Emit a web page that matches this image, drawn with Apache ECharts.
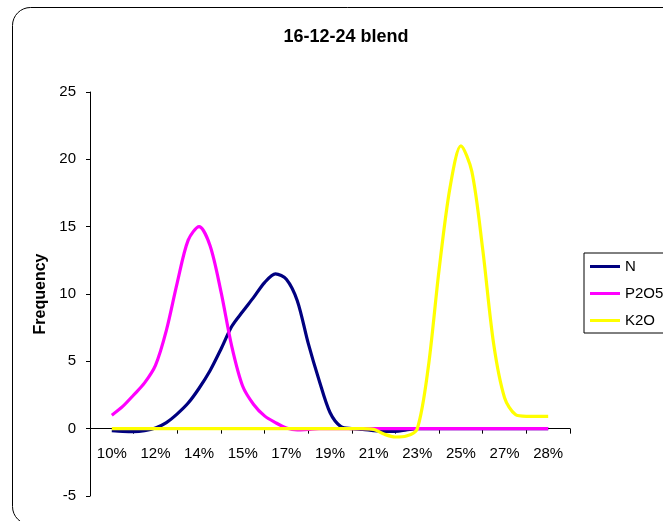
<!DOCTYPE html>
<html>
<head>
<meta charset="utf-8">
<title>16-12-24 blend</title>
<script src="https://cdn.jsdelivr.net/npm/echarts@6/dist/echarts.min.js"></script>
<style>
  html, body { margin: 0; padding: 0; background: #ffffff; }
  #chart { width: 663px; height: 521px; }
</style>
</head>
<body>
<div id="chart"></div>
<script>
// Tick labels along the nutrient-content axis (one per group of four bins)
var xTickLabels = ['10%', '12%', '14%', '15%', '17%', '19%', '21%', '23%', '25%', '27%', '28%'];

// Frequency per bin (41 bins from 10% to 28%)
var nValues = [
  -0.15, -0.2, -0.22, -0.15, 0.05, 0.45, 1.1, 1.9, 3.0, 4.3,
  5.9, 7.6, 8.7, 9.75, 10.85, 11.5, 11.1, 9.5, 6.35, 3.6,
  1.2, 0.15, 0, -0.05, -0.15, -0.2, -0.2, -0.1, 0, 0,
  0, 0, 0, 0, 0, 0, 0, 0, 0, 0, 0
];
var p2o5Values = [
  1.0, 1.65, 2.5, 3.4, 4.7, 7.3, 10.85, 14.0, 15.0, 13.6,
  10.2, 6.1, 3.15, 1.8, 0.95, 0.45, 0.05, -0.1, -0.05, 0,
  0, 0, 0, 0, 0, 0, 0, 0, 0, 0,
  0, 0, 0, 0, 0, 0, 0, 0, 0, 0, 0
];
var k2oValues = [
  0, 0, 0, 0, 0, 0, 0, 0, 0, 0,
  0, 0, 0, 0, 0, 0, 0, 0, 0, 0,
  0, 0, 0, 0, -0.05, -0.42, -0.62, -0.55, 0.0, 4.5,
  11.8, 17.9, 21.0, 19.1, 13.3, 6.3, 2.3, 1.05, 0.92, 0.92, 0.92
];

var seriesNames = ['N', 'P2O5', 'K2O'];
var seriesColors = ['#000080', '#ff00ff', '#ffff00'];
var binsPerLabel = 4;
var yMin = -5, yMax = 25, yStep = 5;

function toPoints(values) {
  return values.map(function (v, i) { return [i, v]; });
}

var FONT = "'Liberation Sans', Arial, sans-serif";
var W = 663, H = 521;
var gridBox = { left: 90, right: 93, top: 92, bottom: 25 };
var plotHeight = H - gridBox.top - gridBox.bottom;
// the category axis sits on the zero line of the frequency scale
var zeroLineOffset = -(0 - yMin) / (yMax - yMin) * plotHeight;

var chart = echarts.init(document.getElementById('chart'), null, { renderer: 'canvas' });
var valueSets = [nValues, p2o5Values, k2oValues];
var lastBin = nValues.length - 1;

chart.setOption({
  backgroundColor: '#ffffff',
  animation: false,
  title: {
    text: '16-12-24 blend',
    left: 341,
    top: 23,
    textAlign: 'center',
    textStyle: { fontFamily: FONT, fontSize: 18, fontWeight: 'bold', color: '#000' }
  },
  graphic: [{
    type: 'rect',
    shape: { x: 12.5, y: 7.5, width: 720, height: 517, r: 18 },
    style: { fill: 'none', stroke: '#000', lineWidth: 1 },
    silent: true,
    z: -1
  }],
  legend: {
    orient: 'vertical',
    left: 584,
    top: 253,
    padding: [6, 40, 5, 6],
    itemGap: 12,
    itemWidth: 30,
    itemHeight: 3,
    borderColor: '#000',
    borderWidth: 1,
    backgroundColor: '#fff',
    icon: 'rect',
    textStyle: { fontFamily: FONT, fontSize: 15, color: '#000', lineHeight: 15 },
    data: seriesNames
  },
  grid: {
    left: gridBox.left, right: gridBox.right, top: gridBox.top, bottom: gridBox.bottom,
    containLabel: false,
    outerBoundsMode: 'none'
  },
  xAxis: [{
    type: 'category',
    data: xTickLabels,
    boundaryGap: true,
    offset: zeroLineOffset,
    axisLine: { onZero: false, lineStyle: { color: '#000', width: 1 } },
    axisTick: { show: true, inside: false, length: 5, alignWithLabel: false, lineStyle: { color: '#000' } },
    axisLabel: { margin: 18, fontFamily: FONT, fontSize: 15, color: '#000', interval: 0, hideOverlap: false },
    splitLine: { show: false }
  }, {
    type: 'value',
    show: false,
    min: -binsPerLabel / 2,
    max: lastBin + binsPerLabel / 2
  }],
  yAxis: {
    type: 'value',
    min: yMin,
    max: yMax,
    interval: yStep,
    name: 'Frequency',
    nameLocation: 'middle',
    nameRotate: 90,
    nameGap: 41,
    nameTextStyle: { fontFamily: FONT, fontSize: 16, fontWeight: 'bold', color: '#000' },
    axisLine: { show: true, onZero: false, lineStyle: { color: '#000', width: 1 } },
    axisTick: { show: true, inside: false, length: 4, lineStyle: { color: '#000' } },
    axisLabel: { margin: 14, fontFamily: FONT, fontSize: 15, color: '#000' },
    splitLine: { show: false }
  },
  series: seriesNames.map(function (name, k) {
    return {
      name: name,
      type: 'line',
      xAxisIndex: 1,
      data: toPoints(valueSets[k]),
      smooth: 0.3,
      showSymbol: false,
      symbol: 'none',
      color: seriesColors[k],
      lineStyle: { color: seriesColors[k], width: 3.2 },
      z: 2 + k
    };
  })
});
</script>
</body>
</html>
